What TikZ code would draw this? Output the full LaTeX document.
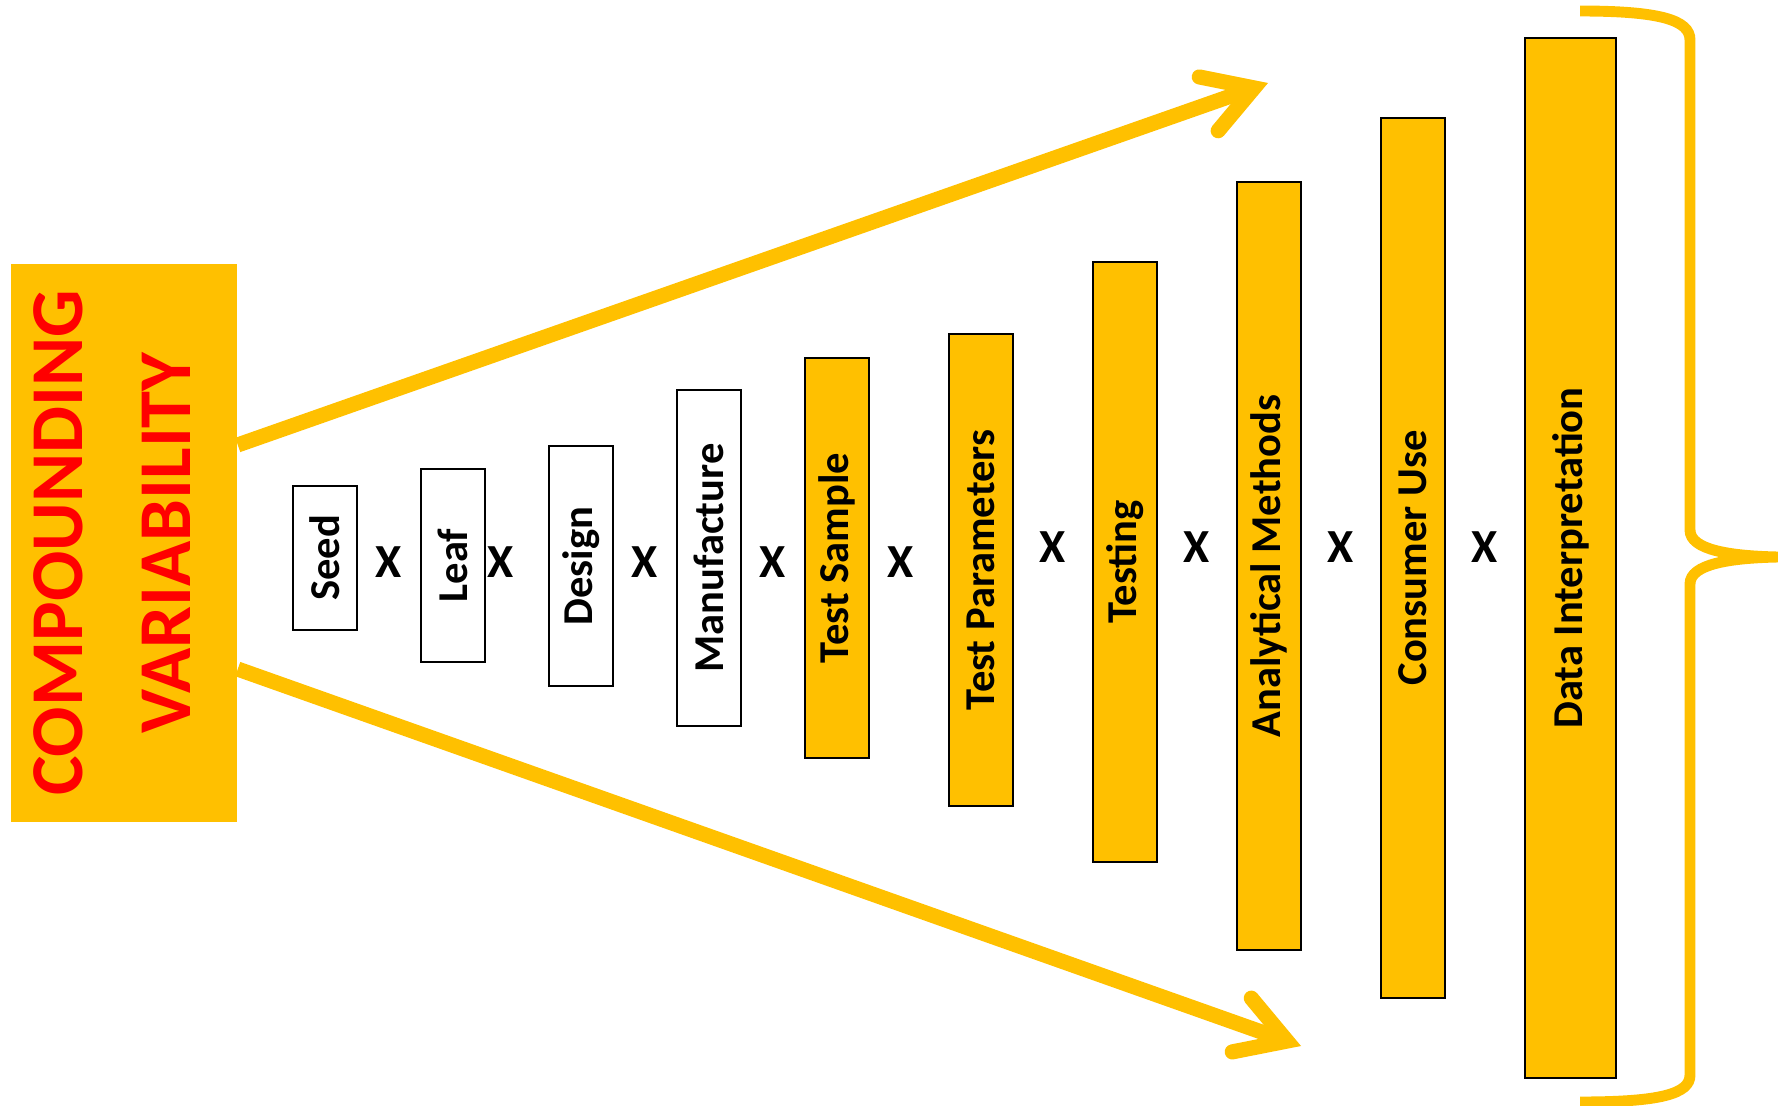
\documentclass[tikz,border=0pt]{standalone}
\usepackage{fontspec}
\setmainfont{Carlito}
\usepackage{xcolor}
\definecolor{cvgold}{RGB}{255,192,0}
\definecolor{cvred}{RGB}{255,0,0}
\usetikzlibrary{arrows.meta,positioning,calc}

\begin{document}
\begin{tikzpicture}[x=0.01cm, y=-0.01cm,
  titlebox/.style={rectangle, fill=cvgold, minimum width=2.26cm, minimum height=5.58cm},
  titletext/.style={rotate=90, align=center, text=cvred,
                    font=\fontsize{21.2}{30.7}\selectfont\bfseries},
  wbox/.style={rectangle, draw=black, line width=0.6pt, fill=white, rotate=90,
               inner sep=0pt, minimum height=0.64cm,
               font=\fontsize{12.1}{15}\selectfont\bfseries},
  gbox/.style={wbox, fill=cvgold},
  mult/.style={font=\fontsize{13.5}{16}\selectfont\bfseries, inner sep=0pt},
  farr/.style={-{Straight Barb[length=0.48cm, width=0.57cm, line cap=round, line join=miter]},
               line width=4.3pt, draw=cvgold},
  brace/.style={draw=cvgold, line width=3.1pt}
]
\useasboundingbox (0,0) rectangle (1778,1106);

% Title block
\node[titlebox] (cv) at (124,543) {};
\node[titletext] (cvtext) at (112,543) {COMPOUNDING\\VARIABILITY};

% Stages
\node[wbox, minimum width=1.44cm] (seed)    at (325,558)   {Seed};
\node[wbox, minimum width=1.93cm] (leaf)    at (453,565.5) {Leaf};
\node[wbox, minimum width=2.40cm] (design)  at (581,566)   {Design};
\node[wbox, minimum width=3.36cm] (manuf)   at (709,558)   {Manufacture};
\node[gbox, minimum width=4.00cm] (tsample) at (837,558)   {Test Sample};
\node[gbox, minimum width=4.72cm] (tparam)  at (981,570)   {Test Parameters};
\node[gbox, minimum width=6.00cm] (testing) at (1125,562)  {Testing};
\node[gbox, minimum width=7.68cm] (anmeth)  at (1269,566)  {Analytical Methods};
\node[gbox, minimum width=8.80cm] (cuse)    at (1413,558)  {Consumer Use};
\node[gbox, minimum width=10.40cm, minimum height=0.91cm] (datai) at (1570.5,558) {Data Interpretation};

% Multipliers
\foreach \px/\py [count=\i] in {389/562, 501/562, 645/562, 773/562, 901/562,
                                1053/547, 1197/547, 1341/547, 1485/547}
  \node[mult] (x\i) at (\px,\py) {X};

% Spreading arrows
\coordinate (uptip)  at (1268,83);
\coordinate (lowtip) at (1301,1046);
\draw[farr] ([yshift=0.98cm]cv.east)  -- (uptip);
\draw[farr] ([yshift=-1.26cm]cv.east) -- (lowtip);

% Brace
\draw[brace] (1580,11) .. controls (1660,11) and (1690,20) .. (1690,40)
  -- (1690,530) .. controls (1690,550) and (1730,556) .. (1778,557)
  .. controls (1730,558) and (1690,564) .. (1690,584)
  -- (1690,1075) .. controls (1690,1094) and (1660,1102) .. (1580,1102);
\end{tikzpicture}
\end{document}
